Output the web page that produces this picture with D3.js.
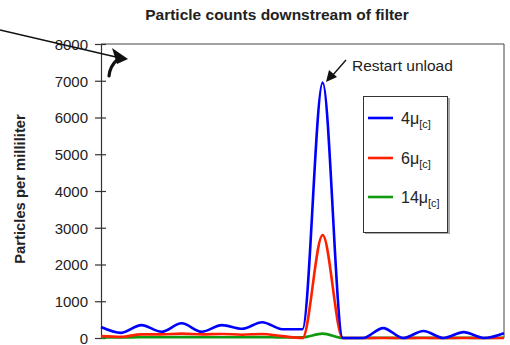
<!DOCTYPE html>
<html>
<head>
<meta charset="utf-8">
<script src="https://cdn.jsdelivr.net/npm/d3@7"></script>
<style>
  body { margin: 0; background: #fff; }
  text { font-family: "Liberation Sans", Arial, sans-serif; }
</style>
</head>
<body>
<div id="chart"></div>
<script>
// sample index along the x axis (no labels shown)
var samples = d3.range(21);
var yTicks = [0, 1000, 2000, 3000, 4000, 5000, 6000, 7000, 8000];

var blue4 = [300, 140, 350, 170, 400, 170, 350, 250, 430, 240, 240, 6950, 0, 0, 270, 0, 190, 0, 160, 0, 130];
var red6 = [50, 30, 100, 100, 120, 100, 110, 90, 110, 50, 0, 2800, 0, 0, 0, 0, 0, 0, 0, 0, 0];
var green14 = [15, 15, 20, 20, 25, 20, 20, 20, 25, 15, 20, 120, 0, 0, 5, 0, 5, 0, 5, 0, 5];

var seriesNames = ["4", "6", "14"];
var seriesColors = ["#0000ff", "#ff2000", "#109a10"];
var seriesData = [blue4, red6, green14];

var W = 510, H = 345;
var margin = {top: 44, right: 6, bottom: 7, left: 101};

var svg = d3.select("#chart").append("svg")
    .attr("width", W)
    .attr("height", H);

var x = d3.scaleLinear()
    .domain([0, samples.length - 1])
    .range([margin.left, W - margin.right]);

var y = d3.scaleLinear()
    .domain([0, 8000])
    .range([H - margin.bottom, margin.top]);

// title
svg.append("text")
    .attr("x", 277)
    .attr("y", 20)
    .attr("text-anchor", "middle")
    .style("font-size", "15.5px")
    .style("font-weight", "bold")
    .style("fill", "#222")
    .text("Particle counts downstream of filter");

// y label
svg.append("text")
    .attr("transform", "translate(25," + 189 + ") rotate(-90)")
    .attr("text-anchor", "middle")
    .style("font-size", "14.8px")
    .style("font-weight", "bold")
    .style("fill", "#222")
    .text("Particles per milliliter");

// frame (top + right)
svg.append("path")
    .attr("d", "M" + x(0) + "," + y(8000) + "H" + x(20) + "V" + y(0))
    .attr("fill", "none")
    .attr("stroke", "#444")
    .attr("stroke-width", 1);

// y axis
var yAxis = svg.append("g")
    .attr("transform", "translate(" + x(0) + ",0)")
    .call(d3.axisLeft(y).tickValues(yTicks).tickSize(6).tickPadding(7).tickFormat(d3.format("d")));

yAxis.select(".domain").attr("stroke", "#333").attr("stroke-width", 1.2);
yAxis.selectAll(".tick line").attr("x1", -6).attr("x2", 5).attr("stroke", "#333").attr("stroke-width", 1.2);
yAxis.selectAll(".tick text")
    .style("font-size", "15px")
    .style("font-family", "'Liberation Sans', Arial, sans-serif")
    .style("fill", "#222")
    .attr("dy", "0.36em");

// series lines
var line = d3.line()
    .x(function(d, i) { return x(samples[i]); })
    .y(function(d) { return y(d); })
    .curve(d3.curveMonotoneX);

// draw green first, then red, then blue on top
[2, 1, 0].forEach(function(k) {
    svg.append("path")
        .datum(seriesData[k])
        .attr("d", line)
        .attr("fill", "none")
        .attr("stroke", seriesColors[k])
        .attr("stroke-width", 2.6)
        .attr("stroke-linejoin", "round");
});

// legend
var lg = svg.append("g");
lg.append("rect")
    .attr("x", 365).attr("y", 98)
    .attr("width", 85).attr("height", 136)
    .attr("fill", "#aaa");
lg.append("rect")
    .attr("x", 363.5).attr("y", 96.5)
    .attr("width", 84).attr("height", 136)
    .attr("fill", "#fff")
    .attr("stroke", "#333")
    .attr("stroke-width", 1);

var legendY = [118, 158, 197];
seriesNames.forEach(function(name, k) {
    lg.append("line")
        .attr("x1", 368).attr("x2", 393)
        .attr("y1", legendY[k]).attr("y2", legendY[k])
        .attr("stroke", seriesColors[k])
        .attr("stroke-width", 2.6);
    var t = lg.append("text")
        .attr("x", 401)
        .attr("y", legendY[k] + 6)
        .style("font-size", "16px")
        .style("fill", "#222");
    t.append("tspan").text(name + "\u03bc");
    t.append("tspan")
        .attr("dy", 4)
        .style("font-size", "11px")
        .text("[c]");
});

// annotation
svg.append("text")
    .attr("x", 352)
    .attr("y", 71)
    .style("font-size", "15.5px")
    .style("fill", "#222")
    .text("Restart unload");

svg.append("line")
    .attr("x1", 346).attr("y1", 60)
    .attr("x2", 332).attr("y2", 76)
    .attr("stroke", "#111")
    .attr("stroke-width", 1.3);
svg.append("path")
    .attr("d", "M326,82 L329,70 L337,77 Z")
    .attr("fill", "#111");

// long arrow from the left edge
svg.append("line")
    .attr("x1", 0).attr("y1", 30)
    .attr("x2", 116).attr("y2", 57)
    .attr("stroke", "#111")
    .attr("stroke-width", 1.4);
svg.append("path")
    .attr("d", "M112,48 L128,59 L117,64 Z")
    .attr("fill", "#111");
svg.append("path")
    .attr("d", "M117,60 Q110,66 109,76")
    .attr("fill", "none")
    .attr("stroke", "#111")
    .attr("stroke-width", 3.2)
    .attr("stroke-linecap", "round");
</script>
</body>
</html>
